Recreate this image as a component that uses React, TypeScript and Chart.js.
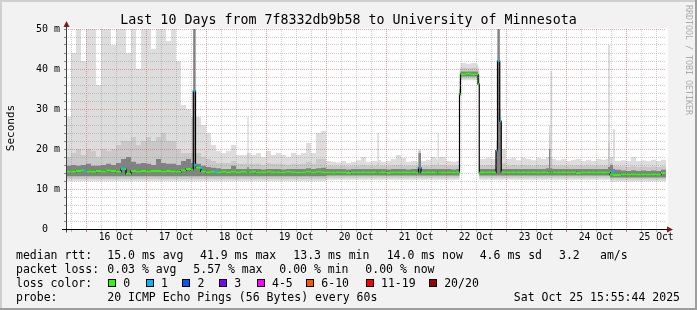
import React, { useEffect, useRef } from "react";
import { Chart, registerables } from "chart.js";

Chart.register(...registerables);

// ---------------- data (hours since Oct 15 15:55:44, values in ms) ----------------
const sampleHours = [
  0, 2, 4, 6, 8, 10, 12, 14, 16, 18, 20, 22, 24, 26, 28, 30, 32, 34, 36, 38, 40, 42, 44, 46, 48,
  50, 50.9, 51.8,
  52, 54, 56, 58, 60, 62, 64, 66, 68, 70,
  72, 72.5, 73.1,
  74, 76, 78, 80, 82, 84, 86, 88, 90, 92, 94, 96, 98, 100, 102, 104, 106, 108, 110, 112, 114, 116, 118, 120, 122,
  124, 124.5, 125.2,
  126, 128, 130, 132, 134, 136, 138, 140,
  141,
  142, 144, 146, 148,
  148.6, 149.2,
  150, 152, 154, 156,
  157.4, 157.8, 160, 162, 164, 164.8,
  165.3, 168, 170,
  172, 172.6, 173.5, 174.1,
  176, 178, 180, 182, 184, 186, 188, 190, 192,
  193.2, 193.7, 194.5,
  196, 198, 200, 202, 204, 206, 208, 210, 212, 214, 216,
  216.8, 217.6, 218.8, 219.6,
  222, 224, 226, 228, 230, 232, 234, 236, 238,
];

const medianMs = [
  14.4, 14.3, 14.5, 14.6, 14.4, 14.3, 14.5, 14.4, 14.6, 14.5, 14.3, 15.0, 13.8, 14.5, 14.4, 14.5, 14.4, 14.5, 14.5, 14.4, 14.5, 14.4, 14.3, 14.6, 15.0,
  14.8, 34.5, 15.5,
  15.3, 14.4, 14.2, 14.3, 14.2, 14.3, 14.2, 14.3, 14.2, 14.3,
  14.2, 14.3, 14.2,
  14.3, 14.1, 14.2, 14.3, 14.2, 14.1, 14.2, 14.3, 14.2, 14.1, 14.2, 14.3, 14.2, 14.3, 14.2, 14.2, 14.1, 14.2, 14.1, 14.0, 14.2, 14.1, 14.2, 14.1, 14.2,
  14.1, 14.2, 14.1,
  14.2, 14.0, 14.1, 14.2, 14.1, 14.1, 14.2, 14.1,
  15.3,
  14.1, 14.2, 14.1, 14.2,
  14.1, 14.2,
  14.1, 14.2, 14.1, 14.2,
  33.7, 38.7, 38.8, 38.7, 38.6, 36.2,
  14.1, 14.2, 14.1,
  19.6, 42.0, 26.9, 14.2,
  14.1, 14.2, 14.1, 14.2, 14.1, 14.2, 14.1, 14.2, 14.1,
  14.2, 14.1, 14.2,
  14.1, 14.2, 14.1, 14.2, 14.0, 14.1, 14.2, 14.1, 14.2, 14.1, 14.2,
  14.1, 13.6, 13.5, 13.5,
  13.7, 13.6, 13.7, 13.6, 13.7, 13.6, 13.7, 13.6, 14.0,
];

const smokeOuterLow = [
  12.0, 12.0, 12.0, 12.0, 12.0, 12.0, 12.0, 12.0, 12.0, 12.0, 12.0, 12.0, 12.0, 12.0, 12.0, 12.0, 12.0, 12.0, 12.0, 12.0, 12.0, 12.0, 12.0, 12.0, 12.0,
  12.0, 12.0, 12.0,
  12.0, 12.0, 12.0, 12.0, 12.0, 12.0, 12.0, 12.0, 12.0, 12.0,
  12.0, 12.0, 12.0,
  12.0, 12.0, 12.0, 12.0, 12.0, 12.0, 12.0, 12.0, 12.0, 12.0, 12.0, 12.0, 12.0, 12.0, 12.0, 12.3, 12.3, 12.3, 12.3, 12.3, 12.3, 12.3, 12.3, 12.3, 12.3,
  12.3, 12.3, 12.3,
  12.3, 12.3, 12.3, 12.3, 12.3, 12.3, 12.3, 12.3,
  12.3,
  12.3, 12.3, 12.3, 12.3,
  12.3, 12.3,
  12.3, 12.3, 12.3, 12.3,
  33.0, 37.2, 37.2, 37.2, 37.2, 35.5,
  12.3, 12.3, 12.3,
  12.3, 12.3, 12.3, 12.3,
  12.3, 12.3, 12.3, 12.3, 12.3, 12.3, 12.3, 12.3, 12.3,
  12.3, 12.3, 12.3,
  12.3, 12.3, 12.3, 12.3, 12.3, 12.3, 12.3, 12.3, 12.3, 12.3, 12.3,
  12.3, 11.9, 11.9, 11.9,
  11.9, 11.9, 11.9, 11.9, 11.9, 11.9, 11.9, 11.9, 11.9,
];

const smokeOuterHigh = [
  28, 44, 50, 42, 50, 50, 36, 50, 50, 46, 50, 50, 44, 50, 40, 50, 50, 45, 50, 50, 47, 50, 42, 31, 30,
  28, 51, 24,
  28, 26, 24, 21, 19.5, 19, 19.5, 21, 18.5, 18.5,
  18.5, 28, 19,
  18.5, 19, 18, 19.5, 18.5, 19, 18.5, 18, 19, 18.5, 19, 21.5, 19, 24, 24.5, 17, 16.8, 16.6, 17, 16.5, 16.8, 17.2, 18, 16.8, 17,
  17, 24, 17.3,
  16.8, 17, 17.5, 18.5, 17.8, 16.8, 17, 16.8,
  20,
  17, 17.3, 18, 17.5,
  24, 18,
  18, 17, 16.8, 17,
  40, 41.5, 41.3, 41.5, 41.2, 40.5,
  17.5, 17.8, 17.5,
  22, 51, 30, 20,
  17.5, 17.8, 17.2, 17.8, 17.5, 17.2, 17.8, 17.5, 18,
  26, 39.5, 17.5,
  17.2, 17.5, 17, 17.3, 17.5, 17, 17.3, 17, 17.5, 17.3, 17.5,
  46, 18, 25, 17,
  17.2, 17, 18, 17, 17.2, 17, 17.3, 17, 17.3,
];

const smokeMidLow = [
  12.5, 12.5, 12.5, 12.5, 12.5, 12.5, 12.5, 12.5, 12.5, 12.5, 12.5, 12.5, 12.5, 12.5, 12.5, 12.5, 12.5, 12.5, 12.5, 12.5, 12.5, 12.5, 12.5, 12.5, 12.5,
  12.5, 12.5, 12.5,
  12.5, 12.5, 12.5, 12.5, 12.5, 12.5, 12.5, 12.5, 12.5, 12.5,
  12.5, 12.5, 12.5,
  12.5, 12.5, 12.5, 12.5, 12.5, 12.5, 12.5, 12.5, 12.5, 12.5, 12.5, 12.5, 12.5, 12.5, 12.5, 12.8, 12.8, 12.8, 12.8, 12.8, 12.8, 12.8, 12.8, 12.8, 12.8,
  12.8, 12.8, 12.8,
  12.8, 12.8, 12.8, 12.8, 12.8, 12.8, 12.8, 12.8,
  12.8,
  12.8, 12.8, 12.8, 12.8,
  12.8, 12.8,
  12.8, 12.8, 12.8, 12.8,
  33.2, 37.6, 37.6, 37.6, 37.6, 35.8,
  12.8, 12.8, 12.8,
  12.8, 12.8, 12.8, 12.8,
  12.8, 12.8, 12.8, 12.8, 12.8, 12.8, 12.8, 12.8, 12.8,
  12.8, 12.8, 12.8,
  12.8, 12.8, 12.8, 12.8, 12.8, 12.8, 12.8, 12.8, 12.8, 12.8, 12.8,
  12.8, 12.4, 12.4, 12.4,
  12.4, 12.4, 12.4, 12.4, 12.4, 12.4, 12.4, 12.4, 12.4,
];

const smokeMidHigh = [
  18, 19, 20, 18.5, 20, 19.5, 18, 20, 19.5, 20, 21, 22, 22, 23, 21, 22, 23, 22, 23, 24, 22, 22, 20, 19, 19,
  19, 51, 17.5,
  19, 18, 17.5, 17, 16.5, 16.5, 16.5, 17, 16.3, 16.3,
  16.3, 19, 16.3,
  16.3, 16.3, 16, 16.5, 16.3, 16.3, 16.2, 16, 16.3, 16.2, 16.3, 16.8, 16.3, 17.5, 17.5, 15.8, 15.8, 15.8, 15.8, 15.7, 15.8, 15.8, 16, 15.8, 15.8,
  15.8, 16.5, 15.8,
  15.8, 15.8, 15.9, 16, 15.9, 15.8, 15.8, 15.8,
  19.5,
  15.8, 15.8, 16, 15.9,
  16.5, 15.9,
  16, 15.8, 15.8, 15.8,
  37, 40.3, 40.2, 40.3, 40.1, 39.5,
  15.9, 16, 15.9,
  20, 51, 28, 16.5,
  15.9, 16, 15.8, 16, 15.9, 15.8, 16, 15.9, 16,
  23.6, 18, 15.9,
  15.8, 15.9, 15.8, 15.9, 15.9, 15.8, 15.9, 15.8, 15.9, 15.9, 15.9,
  21.6, 16.5, 16, 15.7,
  15.6, 15.5, 15.7, 15.5, 15.6, 15.5, 15.6, 15.5, 15.6,
];

const smokeInnerLow = [
  13.2, 13.2, 13.2, 13.2, 13.2, 13.2, 13.2, 13.2, 13.2, 13.2, 13.2, 13.2, 13.2, 13.2, 13.2, 13.2, 13.2, 13.2, 13.2, 13.2, 13.2, 13.2, 13.2, 13.2, 13.2,
  13.2, 13.2, 13.2,
  13.2, 13.2, 13.2, 13.2, 13.2, 13.2, 13.2, 13.2, 13.2, 13.2,
  13.2, 13.2, 13.2,
  13.2, 13.2, 13.2, 13.2, 13.2, 13.2, 13.2, 13.2, 13.2, 13.2, 13.2, 13.2, 13.2, 13.2, 13.2, 13.4, 13.4, 13.4, 13.4, 13.4, 13.4, 13.4, 13.4, 13.4, 13.4,
  13.4, 13.4, 13.4,
  13.4, 13.4, 13.4, 13.4, 13.4, 13.4, 13.4, 13.4,
  13.4,
  13.4, 13.4, 13.4, 13.4,
  13.4, 13.4,
  13.4, 13.4, 13.4, 13.4,
  33.4, 38.1, 38.1, 38.1, 38.1, 36.0,
  13.4, 13.4, 13.4,
  13.4, 13.4, 13.4, 13.4,
  13.4, 13.4, 13.4, 13.4, 13.4, 13.4, 13.4, 13.4, 13.4,
  13.4, 13.4, 13.4,
  13.4, 13.4, 13.4, 13.4, 13.4, 13.4, 13.4, 13.4, 13.4, 13.4, 13.4,
  13.4, 12.9, 12.9, 12.9,
  12.9, 12.9, 12.9, 12.9, 12.9, 12.9, 12.9, 12.9, 12.9,
];

const smokeInnerHigh = [
  15.8, 16, 15.8, 16, 16.3, 15.8, 15.8, 16, 16.3, 16, 16.5, 17.5, 18, 16.8, 16.3, 16.5, 16.3, 16, 17.5, 16.5, 16.3, 16.3, 16, 17, 17.5,
  16.5, 51, 16,
  16.3, 15.8, 15.5, 15.3, 15.2, 15, 15, 15.8, 15, 15,
  15, 15.5, 15,
  15, 15, 14.9, 15, 15, 15, 14.9, 15, 15, 15, 15, 15.2, 15, 15.2, 15.3, 15, 15, 15, 15, 14.9, 15, 15, 15, 15, 15,
  15, 15, 15,
  15, 14.9, 15, 15, 15, 14.9, 15, 15,
  19,
  15, 15, 15, 15,
  15, 15,
  15, 15, 14.9, 15,
  35, 39.4, 39.4, 39.4, 39.3, 38.5,
  15, 15, 15,
  19.6, 51, 27, 15,
  15, 15, 15, 15, 15, 15, 15, 15, 15.2,
  20, 15.2, 15,
  15, 15, 15, 15, 15, 15, 15, 15, 15, 15, 15,
  15.5, 16, 15, 14.8,
  14.6, 14.5, 14.7, 14.5, 14.6, 14.5, 14.6, 14.5, 14.8,
];

// samples whose median step is drawn in the "1 lost" colour
const lossOneSampleHours = [50.9, 141, 172, 172.6, 173.5];
// single loss-1 median points [hour, ms]
const lossOneDots = [
  [7.6, 14.6], [22.9, 15.1], [51.6, 16.0], [54.3, 15.3], [60, 14.4], [218.8, 14.4],
];

const dayLabels = ["16 Oct", "17 Oct", "18 Oct", "19 Oct", "20 Oct", "21 Oct", "22 Oct", "23 Oct", "24 Oct", "25 Oct"];
const END_HOUR = 240;
const FIRST_TICK_HOUR = 2.0711; // Oct 15 18:00
const TICK_STEP_HOURS = 6;

const chartTitle = "Last 10 Days from 7f8332db9b58 to University of Minnesota";
const medianStats = ["15.0 ms avg", "41.9 ms max", "13.3 ms min", "14.0 ms now", "4.6 ms sd", "3.2", "am/s"];
const lossStats = ["0.03 % avg", "5.57 % max", "0.00 % min", "0.00 % now"];
const lossLegendLabels = ["0", "1", "2", "3", "4-5", "6-10", "11-19", "20/20"];
const lossLegendColors = ["#26ff00", "#00b8ff", "#0059ff", "#7e00ff", "#ff00ff", "#ff5500", "#ff0000", "#a10000"];
const probeText = "20 ICMP Echo Pings (56 Bytes) every 60s";
const stampText = "Sat Oct 25 15:55:44 2025";

// ---------------- styling ----------------
const MONO = '"DejaVu Sans Mono", monospace';
const RED_GRID = "rgba(230,50,50,0.45)";
const GRAY_GRID = "rgba(130,130,130,0.38)";

const gridTickHours: number[] = [];
for (let h = FIRST_TICK_HOUR; h < END_HOUR; h += TICK_STEP_HOURS) gridTickHours.push(h);

function stepSeries(values: number[]) {
  const pts = sampleHours.map((h, i) => ({ x: h, y: values[i] }));
  pts.push({ x: END_HOUR, y: values[values.length - 1] });
  return pts;
}

const decorPlugin = {
  id: "smokeDecor",
  beforeDraw(chart: any) {
    const { ctx, width, height, chartArea: a } = chart;
    ctx.save();
    ctx.fillStyle = "#f2f2f2";
    ctx.fillRect(0, 0, width, height);
    ctx.fillStyle = "#cfcfcf";
    ctx.fillRect(0, 0, width, 2);
    ctx.fillRect(0, 0, 2, height);
    ctx.fillStyle = "#9e9e9e";
    ctx.fillRect(0, height - 2, width, 2);
    ctx.fillRect(width - 2, 0, 2, height);
    ctx.fillStyle = "#ffffff";
    ctx.fillRect(a.left, a.top - 1, a.right - a.left + 2, a.bottom - a.top + 1);
    ctx.restore();
  },
  afterDraw(chart: any) {
    const { ctx, chartArea: a } = chart;
    ctx.save();
    const yAxisX = Math.round(a.left) + 0.5;
    const xAxisY = Math.round(a.bottom) + 0.5;
    // axes
    ctx.lineWidth = 1;
    ctx.strokeStyle = "#404040";
    ctx.beginPath();
    ctx.moveTo(yAxisX, xAxisY + 3);
    ctx.lineTo(yAxisX, a.top - 3);
    ctx.stroke();
    ctx.strokeStyle = "#000";
    ctx.beginPath();
    ctx.moveTo(a.left - 4, xAxisY);
    ctx.lineTo(a.right + 2, xAxisY);
    ctx.stroke();
    // arrows
    ctx.fillStyle = "#7d1a1a";
    ctx.beginPath();
    ctx.moveTo(a.right + 7, xAxisY);
    ctx.lineTo(a.right + 1, xAxisY - 3);
    ctx.lineTo(a.right + 1, xAxisY + 3);
    ctx.closePath();
    ctx.fill();
    ctx.beginPath();
    ctx.moveTo(yAxisX, a.top - 8);
    ctx.lineTo(yAxisX - 3, a.top - 2);
    ctx.lineTo(yAxisX + 3, a.top - 2);
    ctx.closePath();
    ctx.fill();

    // title
    ctx.fillStyle = "#000";
    ctx.textBaseline = "alphabetic";
    ctx.textAlign = "center";
    ctx.font = `13.3px ${MONO}`;
    ctx.fillText(chartTitle, 348.5, 24);

    // vertical axis title
    ctx.save();
    ctx.translate(14, 128);
    ctx.rotate(-Math.PI / 2);
    ctx.font = `11px ${MONO}`;
    ctx.textAlign = "center";
    ctx.fillText("Seconds", 0, 0);
    ctx.restore();

    // watermark
    ctx.save();
    ctx.translate(686, 60);
    ctx.rotate(Math.PI / 2);
    ctx.font = `8.3px ${MONO}`;
    ctx.textAlign = "center";
    ctx.fillStyle = "#ababab";
    ctx.fillText("RRDTOOL / TOBI OETIKER", 0, 0);
    ctx.restore();

    // legend
    ctx.font = `11.5px ${MONO}`;
    ctx.textAlign = "left";
    ctx.fillStyle = "#000";
    const rows = [258.5, 272.5, 286.5, 300.5];
    ctx.fillText("median rtt:", 16, rows[0]);
    const medX = [107.3, 200, 293.3, 386.7, 479.7, 559, 600];
    medianStats.forEach((t, i) => ctx.fillText(t, medX[i], rows[0]));
    ctx.fillText("packet loss:", 16, rows[1]);
    const lossX = [107.3, 193.3, 279.3, 365.3];
    lossStats.forEach((t, i) => ctx.fillText(t, lossX[i], rows[1]));
    ctx.fillText("loss color:", 16, rows[2]);
    const boxX = [108, 145.7, 182.3, 219, 256.7, 306, 365.7, 428.9];
    lossLegendLabels.forEach((t, i) => {
      const bx = Math.round(boxX[i]);
      ctx.fillStyle = lossLegendColors[i];
      ctx.fillRect(bx, 279, 8, 8);
      ctx.strokeStyle = "#000";
      ctx.strokeRect(bx + 0.5, 279.5, 7, 7);
      ctx.fillStyle = "#000";
      ctx.fillText(t, boxX[i] + 15.3, rows[2]);
    });
    ctx.fillText("probe:", 16, rows[3]);
    ctx.fillText(probeText, 107.3, rows[3]);
    ctx.textAlign = "right";
    ctx.fillText(stampText, 680, rows[3]);
    ctx.restore();
  },
};

export default function App() {
  const ref = useRef<HTMLCanvasElement>(null);

  useEffect(() => {
    const canvas = ref.current;
    if (!canvas) return;

    const band = (low: number[], high: number[], color: string, order: number) => [
      {
        data: stepSeries(low),
        stepped: true,
        borderWidth: 0,
        borderColor: "transparent",
        pointRadius: 0,
        fill: false,
        order,
      },
      {
        data: stepSeries(high),
        stepped: true,
        borderWidth: 0,
        borderColor: "transparent",
        backgroundColor: color,
        pointRadius: 0,
        fill: "-1",
        order,
      },
    ];

    const dashPoints = sampleHours.map((h, i) => {
      const next = i + 1 < sampleHours.length ? sampleHours[i + 1] : END_HOUR;
      return { x: (h + next) / 2, y: medianMs[i], span: next - h, start: h };
    });

    const chart = new Chart(canvas, {
      type: "line",
      data: {
        datasets: [
          ...band(smokeOuterLow, smokeOuterHigh, "#dddddd", 30),
          ...band(smokeMidLow, smokeMidHigh, "#c9c9c9", 20),
          ...band(smokeInnerLow, smokeInnerHigh, "#828282", 10),
          {
            data: stepSeries(medianMs),
            stepped: true,
            borderColor: "#000000",
            borderWidth: 1.2,
            pointRadius: 0,
            fill: false,
            order: 5,
          },
          {
            data: dashPoints,
            showLine: false,
            fill: false,
            pointStyle: "line",
            pointBorderWidth: 2,
            pointRadius: (c: any) => {
              const p = c.raw;
              const sc = c.chart.scales.x;
              if (!p || !sc) return 0;
              return Math.abs(sc.getPixelForValue(p.span) - sc.getPixelForValue(0)) / 2;
            },
            pointBorderColor: (c: any) => {
              const p = c.raw;
              return p && lossOneSampleHours.includes(p.start) ? lossLegendColors[1] : lossLegendColors[0];
            },
            pointBackgroundColor: "transparent",
            order: 2,
          },
          {
            data: lossOneDots.map(([h, v]) => ({ x: h, y: v })),
            showLine: false,
            fill: false,
            pointStyle: "rect",
            pointRadius: 1.8,
            pointBorderWidth: 0,
            pointBackgroundColor: lossLegendColors[1],
            order: 1,
          },
        ] as any,
      },
      options: {
        animation: false,
        responsive: false,
        devicePixelRatio: 1,
        events: [],
        layout: { padding: { left: 0, right: 31, top: 29, bottom: 0 } },
        plugins: {
          legend: { display: false },
          title: { display: false },
          tooltip: { enabled: false },
        },
        scales: {
          x: {
            type: "linear",
            min: 0,
            max: END_HOUR,
            afterBuildTicks: (s: any) => {
              s.ticks = gridTickHours.map((v) => ({ value: v }));
            },
            afterFit: (s: any) => {
              s.height = 81;
            },
            ticks: {
              autoSkip: false,
              maxRotation: 0,
              minRotation: 0,
              padding: 0,
              color: "#000",
              font: { family: MONO, size: 9.7 },
              callback: (_v: any, i: number) => (i % 4 === 3 ? dayLabels[(i - 3) / 4] ?? "" : ""),
            },
            grid: {
              z: 1,
              lineWidth: 1,
              color: (c: any) => (c.index % 4 === 1 ? RED_GRID : GRAY_GRID),
              drawTicks: true,
              tickLength: 3,
              tickColor: (c: any) => (c.index % 4 === 1 ? "#e07070" : "#b8b8b8"),
            },
            border: { display: false, dash: [1, 1] },
          },
          y: {
            type: "linear",
            min: 0,
            max: 50,
            afterFit: (s: any) => {
              s.width = 66;
            },
            ticks: {
              stepSize: 2,
              autoSkip: false,
              padding: 4,
              color: "#000",
              font: { family: MONO, size: 10 },
              callback: (v: any) => {
                const n = Math.round(Number(v));
                if (n % 10 !== 0) return "";
                return n === 0 ? "0  " : `${n} m`;
              },
            },
            grid: {
              z: 1,
              lineWidth: 1,
              color: (c: any) => (c.tick && Math.round(c.tick.value) % 10 === 0 ? RED_GRID : GRAY_GRID),
              drawTicks: true,
              tickLength: 2,
              tickColor: "#888888",
            },
            border: { display: false, dash: [1, 1] },
          },
        },
      } as any,
      plugins: [decorPlugin],
    });

    return () => chart.destroy();
  }, []);

  return (
    <div style={{ position: "fixed", left: 0, top: 0, width: 697, height: 310 }}>
      <canvas ref={ref} width={697} height={310} style={{ display: "block", width: 697, height: 310 }} />
    </div>
  );
}
